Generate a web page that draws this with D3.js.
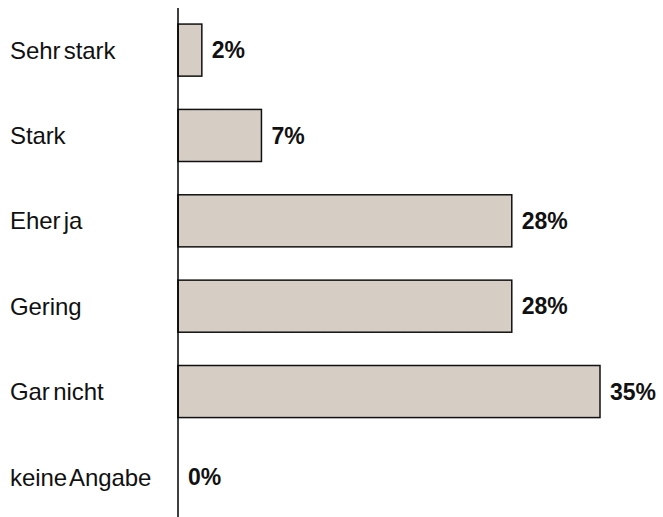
<!DOCTYPE html>
<html>
<head>
<meta charset="utf-8">
<script src="https://cdn.jsdelivr.net/npm/d3@7"></script>
<style>
  body { margin: 0; background: #fff; }
  text { font-family: "Liberation Sans", Arial, sans-serif; }
</style>
</head>
<body>
<svg width="663" height="517"></svg>
<script>
const categories = ['Sehr stark', 'Stark', 'Eher ja', 'Gering', 'Gar nicht', 'keine Angabe'];
const values = [2, 7, 28, 28, 35.4, 0];
const valueLabels = ['2%', '7%', '28%', '28%', '35%', '0%'];

const svg = d3.select('svg'),
    width = +svg.attr('width'),
    height = +svg.attr('height');

const x0 = 178;

const x = d3.scaleLinear()
    .domain([0, 35.4])
    .range([x0, 600]);

const y = d3.scaleBand()
    .domain(categories)
    .range([7, 520])
    .paddingInner(0.39)
    .paddingOuter(0.2);

const rows = categories.map((c, i) => ({ cat: c, value: values[i], label: valueLabels[i] }));

svg.append('g')
    .attr('class', 'bars')
    .selectAll('rect')
    .data(rows.filter(d => d.value > 0))
    .enter()
    .append('rect')
    .attr('x', x(0))
    .attr('y', d => y(d.cat))
    .attr('width', d => x(d.value) - x(0))
    .attr('height', y.bandwidth())
    .attr('fill', '#d6cdc5')
    .attr('stroke', '#111')
    .attr('stroke-width', 1.5);

// axis line
svg.append('line')
    .attr('x1', x0)
    .attr('x2', x0)
    .attr('y1', 8)
    .attr('y2', height)
    .attr('stroke', '#000')
    .attr('stroke-width', 1.5);

svg.append('g')
    .attr('class', 'cat-labels')
    .selectAll('text')
    .data(rows)
    .enter()
    .append('text')
    .attr('x', 10)
    .attr('y', d => y(d.cat) + y.bandwidth() / 2)
    .attr('dy', '0.36em')
    .attr('font-size', 24)
    .attr('letter-spacing', -0.1)
    .attr('word-spacing', -3)
    .attr('fill', '#111')
    .text(d => d.cat);

svg.append('g')
    .attr('class', 'value-labels')
    .selectAll('text')
    .data(rows)
    .enter()
    .append('text')
    .attr('x', d => x(d.value) + 10)
    .attr('y', d => y(d.cat) + y.bandwidth() / 2)
    .attr('dy', '0.36em')
    .attr('font-size', 23)
    .attr('font-weight', 'bold')
    .attr('fill', '#111')
    .text(d => d.label);
</script>
</body>
</html>
